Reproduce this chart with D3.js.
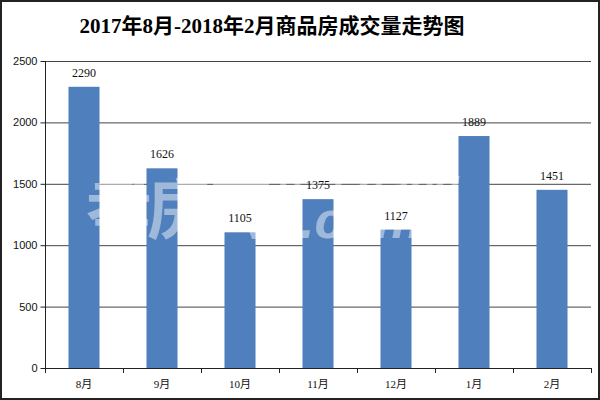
<!DOCTYPE html>
<html><head><meta charset="utf-8">
<script src="https://cdn.jsdelivr.net/npm/d3@7"></script>
<style>html,body{margin:0;padding:0;background:#fff;}svg{display:block;}</style>
</head><body>
<script>
const categories = ["8月","9月","10月","11月","12月","1月","2月"];
const values = [2290,1626,1105,1375,1127,1889,1451];
const yTicks = [0,500,1000,1500,2000,2500];
const title = "2017年8月-2018年2月商品房成交量走势图";

const W = 600, H = 400;
const svg = d3.select("body").append("svg").attr("width", W).attr("height", H);
svg.append("rect").attr("x",1).attr("y",1).attr("width",W-2).attr("height",H-2)
  .attr("fill","#fff").attr("stroke","#222").attr("stroke-width",2);

const m = {left:45, right:591, top:61, bottom:368};
const xb = d3.scaleBand().domain(categories).range([m.left, m.right]);
const y = d3.scaleLinear().domain([0,2500]).range([m.bottom, m.top]);

svg.append("text").attr("x",272).attr("y",33).attr("text-anchor","middle")
  .attr("font-family","'Liberation Serif','Noto Sans CJK SC',serif").attr("font-weight","bold")
  .attr("font-size",21).attr("fill","#000").text(title);

// gridlines
svg.append("g").selectAll("line").data(yTicks.filter(d=>d>0)).join("line")
  .attr("x1",m.left).attr("x2",m.right).attr("y1",d=>y(d)+0.5).attr("y2",d=>y(d)+0.5)
  .attr("stroke","#444").attr("stroke-width",1);

// bars
svg.append("g").selectAll("rect").data(values).join("rect")
  .attr("x",(d,i)=>xb(categories[i]) + xb.bandwidth()/2 - 15.5)
  .attr("width",31)
  .attr("y",d=>y(d)).attr("height",d=>m.bottom-y(d))
  .attr("fill","#4f7fbc");

// watermark
const wm = svg.append("g").attr("fill","#fff").attr("opacity",0.45).attr("font-weight","bold");
wm.append("text").attr("x",86).attr("y",233).attr("font-size",66)
  .attr("font-family","'Noto Sans CJK SC',sans-serif").attr("textLength",188).text("孝房网");
wm.append("text").attr("x",278).attr("y",199).attr("font-size",42).attr("font-style","italic")
  .attr("font-family","'Liberation Sans',Arial,sans-serif").text("0712fang");
wm.append("text").attr("x",300).attr("y",238).attr("font-size",52).attr("font-style","italic")
  .attr("font-family","'Liberation Sans',Arial,sans-serif").text(".com");

// value labels
svg.append("g").selectAll("text").data(values).join("text")
  .attr("x",(d,i)=>xb(categories[i]) + xb.bandwidth()/2)
  .attr("y",d=>y(d)-10).attr("text-anchor","middle")
  .attr("font-family","'Liberation Serif',serif").attr("font-size",12).attr("fill","#111")
  .text(d=>d);

// y axis
const yAxis = d3.axisLeft(y).tickValues(yTicks).tickFormat(d3.format("d")).tickSize(5).tickPadding(3);
const gy = svg.append("g").attr("transform",`translate(${m.left+0.5},0)`).call(yAxis);
gy.select(".domain").attr("stroke","#222").attr("d",`M0,${m.top}V${m.bottom}`);
gy.selectAll(".tick line").attr("stroke","#222");
gy.selectAll(".tick text").attr("font-family","'Liberation Sans',Arial,sans-serif").attr("font-size",11).attr("fill","#111");

// x axis
svg.append("line").attr("x1",m.left).attr("x2",m.right).attr("y1",m.bottom+0.5).attr("y2",m.bottom+0.5).attr("stroke","#222");
svg.append("g").selectAll("line").data(categories.concat(["end"])).join("line")
  .attr("x1",(d,i)=>Math.round(m.left + i*xb.step())+0.5).attr("x2",(d,i)=>Math.round(m.left + i*xb.step())+0.5)
  .attr("y1",m.bottom).attr("y2",m.bottom+5).attr("stroke","#222");
svg.append("g").selectAll("text").data(categories).join("text")
  .attr("x",d=>xb(d)+xb.bandwidth()/2).attr("y",388).attr("text-anchor","middle")
  .attr("font-family","'Liberation Serif','Noto Sans CJK SC',serif").attr("font-size",11).attr("fill","#111")
  .text(d=>d);
</script>
</body></html>
